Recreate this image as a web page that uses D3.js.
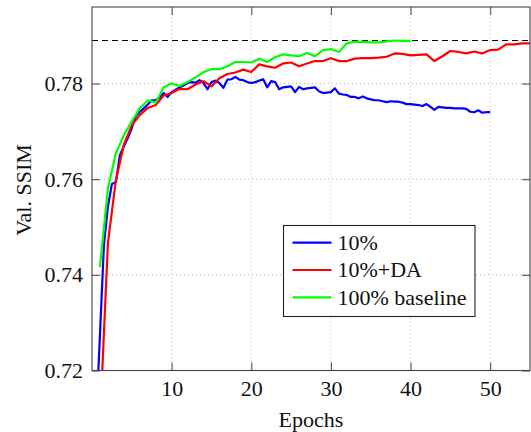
<!DOCTYPE html>
<html>
<head>
<meta charset="utf-8">
<script src="https://cdn.jsdelivr.net/npm/d3@7"></script>
<style>
  body { margin: 0; background: #fff; }
  svg { display: block; }
  text { font-family: "Liberation Serif", "Tinos", "DejaVu Serif", serif; fill: #111; }
</style>
</head>
<body>
<div id="chart"></div>
<script>
const width = 531;
const height = 432;
const margin = { top: 7, right: 1, bottom: 61.5, left: 92 };
const fontFamily = '"Liberation Serif", "Tinos", "DejaVu Serif", serif';

// series names (legend order)
const seriesNames = ["10%", "10%+DA", "100% baseline"];
const seriesColors = ["#0000ff", "#ff0000", "#00ff00"];

// 10%: logged every half epoch (0.5 .. 50)
const valsSmall = [
  0.709, 0.7275, 0.7463, 0.7543, 0.7590, 0.7594, 0.7650, 0.7669, 0.7686, 0.7707,
  0.7732, 0.7741, 0.7748, 0.7756, 0.7765, 0.7765, 0.7771, 0.7780, 0.7772, 0.7782,
  0.7787, 0.7792, 0.7796, 0.7801, 0.7803, 0.7802, 0.7807, 0.7801, 0.7788, 0.7803,
  0.7806, 0.7801, 0.7791, 0.7808, 0.7809, 0.7814, 0.7808, 0.7807, 0.7803, 0.7801,
  0.7803, 0.7806, 0.7809, 0.7792, 0.7805, 0.7803, 0.7788, 0.7792, 0.7793, 0.7794,
  0.7782, 0.7793, 0.7788, 0.7790, 0.7791, 0.7792, 0.7784, 0.7780, 0.7781, 0.7782,
  0.7790, 0.7779, 0.7777, 0.7776, 0.7772, 0.7772, 0.7769, 0.7773, 0.7769, 0.7767,
  0.7765, 0.7765, 0.7763, 0.7761, 0.7763, 0.7762, 0.7762, 0.7760, 0.7757, 0.7757,
  0.7756, 0.7755, 0.7753, 0.7757, 0.7751, 0.7745, 0.7751, 0.7750, 0.7749, 0.7749,
  0.7748, 0.7748, 0.7748, 0.7747, 0.7741, 0.7740, 0.7744, 0.7739, 0.7740, 0.7740
];

// 10%+DA: one value per epoch (1 .. 55)
const valsSmallDA = [
  0.709, 0.7467, 0.7598, 0.7672, 0.7713, 0.7734, 0.7749, 0.7755, 0.7775, 0.7780,
  0.7789, 0.7788, 0.7798, 0.7805, 0.7794, 0.7811, 0.7820, 0.7823, 0.7829, 0.7824,
  0.7840, 0.7836, 0.7833, 0.7842, 0.7844, 0.7836, 0.7842, 0.7847, 0.7847, 0.7853,
  0.7847, 0.7847, 0.7852, 0.7853, 0.7853, 0.7854, 0.7856, 0.7863, 0.7862, 0.7859,
  0.7860, 0.7861, 0.7847, 0.7857, 0.7868, 0.7866, 0.7863, 0.7867, 0.7863, 0.7870,
  0.7871, 0.7882, 0.7882, 0.7884, 0.7884
];

// 100% baseline: one value per epoch (1 .. 40)
const valsFull = [
  0.7416, 0.7581, 0.7654, 0.7692, 0.7721, 0.7748, 0.7765, 0.7760, 0.7792, 0.7800,
  0.7795, 0.7803, 0.7813, 0.7824, 0.7830, 0.7830, 0.7836, 0.7845, 0.7845, 0.7844,
  0.7852, 0.7845, 0.7855, 0.7861, 0.7859, 0.7857, 0.7864, 0.7857, 0.7870, 0.7872,
  0.7866, 0.7884, 0.7887, 0.7887, 0.7886, 0.7886, 0.7888, 0.7890, 0.7889, 0.7889
];

// best baseline value (dashed reference line)
const bestBaseline = 0.789;

const xTicks = [10, 20, 30, 40, 50];
const yTicks = [0.72, 0.74, 0.76, 0.78];
const xDomain = [0, 55];
const yDomain = [0.72, 0.796];

const series = [
  valsSmall.map((v, i) => [(i + 1) / 2, v]),
  valsSmallDA.map((v, i) => [i + 1, v]),
  valsFull.map((v, i) => [i + 1, v]),
];

const x = d3.scaleLinear().domain(xDomain).range([margin.left, width - margin.right]);
const y = d3.scaleLinear().domain(yDomain).range([height - margin.bottom, margin.top]);

const svg = d3
  .select("#chart")
  .append("svg")
  .attr("width", width)
  .attr("height", height)
  .attr("viewBox", [0, 0, width, height])
  .attr("font-family", fontFamily);

svg.append("defs")
  .append("clipPath")
  .attr("id", "plot-clip")
  .append("rect")
  .attr("x", margin.left)
  .attr("y", margin.top)
  .attr("width", width - margin.left - margin.right)
  .attr("height", height - margin.top - margin.bottom);

// dotted grid
const grid = svg.append("g")
  .attr("stroke", "#b4b4b4")
  .attr("stroke-width", 1)
  .attr("stroke-dasharray", "1,3");
grid.selectAll(".gx")
  .data(xTicks)
  .join("line")
  .attr("x1", (d) => x(d))
  .attr("x2", (d) => x(d))
  .attr("y1", y.range()[0])
  .attr("y2", y.range()[1]);
grid.selectAll(".gy")
  .data(yTicks)
  .join("line")
  .attr("x1", x.range()[0])
  .attr("x2", x.range()[1])
  .attr("y1", (d) => y(d))
  .attr("y2", (d) => y(d));

// dashed line for best baseline
svg.append("line")
  .attr("x1", x.range()[0])
  .attr("x2", x.range()[1])
  .attr("y1", y(bestBaseline))
  .attr("y2", y(bestBaseline))
  .attr("stroke", "#000")
  .attr("stroke-width", 1.1)
  .attr("stroke-dasharray", "6,4");

// curves
const line = d3.line().x((d) => x(d[0])).y((d) => y(d[1]));
svg.append("g")
  .attr("clip-path", "url(#plot-clip)")
  .selectAll("path")
  .data(series)
  .join("path")
  .attr("d", line)
  .attr("fill", "none")
  .attr("stroke", (d, i) => seriesColors[i])
  .attr("stroke-width", 2.2)
  .attr("stroke-linejoin", "round");

// axes (ticks pointing inward on all four sides)
const tickLen = 8;
const styleAxis = (g) => {
  g.attr("font-family", fontFamily).attr("font-size", 22);
  g.select(".domain").remove();
  g.selectAll(".tick line").attr("stroke", "#555").attr("stroke-width", 1.1);
  g.selectAll(".tick text").attr("fill", "#111");
};

svg.append("g")
  .attr("transform", `translate(0,${y.range()[0]})`)
  .call(d3.axisBottom(x).tickValues(xTicks).tickSize(-tickLen).tickPadding(10))
  .call(styleAxis);

svg.append("g")
  .attr("transform", `translate(0,${y.range()[1]})`)
  .call(d3.axisTop(x).tickValues(xTicks).tickSize(-tickLen).tickFormat(""))
  .call(styleAxis);

svg.append("g")
  .attr("transform", `translate(${x.range()[0]},0)`)
  .call(d3.axisLeft(y).tickValues(yTicks).tickSize(-tickLen).tickPadding(9).tickFormat(d3.format(".2f")))
  .call(styleAxis);

svg.append("g")
  .attr("transform", `translate(${x.range()[1]},0)`)
  .call(d3.axisRight(y).tickValues(yTicks).tickSize(-tickLen).tickFormat(""))
  .call(styleAxis);

// frame
svg.append("rect")
  .attr("x", x.range()[0])
  .attr("y", y.range()[1])
  .attr("width", x.range()[1] - x.range()[0])
  .attr("height", y.range()[0] - y.range()[1])
  .attr("fill", "none")
  .attr("stroke", "#444")
  .attr("stroke-width", 1.1);

// axis labels
svg.append("text")
  .attr("x", (x.range()[0] + x.range()[1]) / 2)
  .attr("y", 427)
  .attr("text-anchor", "middle")
  .attr("font-size", 22)
  .text("Epochs");

svg.append("text")
  .attr("transform", "translate(31,190) rotate(-90)")
  .attr("text-anchor", "middle")
  .attr("font-size", 22)
  .text("Val. SSIM");

// legend
const legend = svg.append("g").attr("transform", "translate(283.5,225.5)");
legend.append("rect")
  .attr("width", 191.5)
  .attr("height", 91)
  .attr("fill", "#fff")
  .attr("stroke", "#222")
  .attr("stroke-width", 1.1);

const item = legend.selectAll(".item")
  .data(seriesNames)
  .join("g")
  .attr("class", "item")
  .attr("transform", (d, i) => `translate(0,${17.2 + i * 27.3})`);

item.append("line")
  .attr("x1", 9)
  .attr("x2", 48)
  .attr("stroke", (d, i) => seriesColors[i])
  .attr("stroke-width", 2.2);

item.append("text")
  .attr("x", 54)
  .attr("dy", "0.34em")
  .attr("font-size", 22)
  .text((d) => d);
</script>
</body>
</html>
